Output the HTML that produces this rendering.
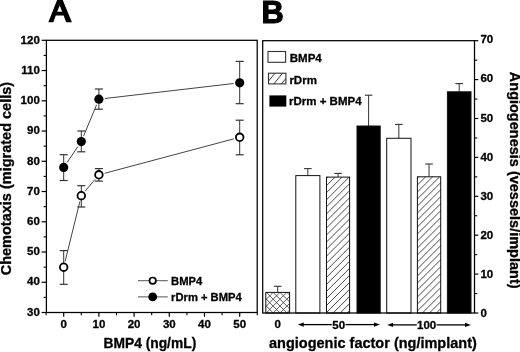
<!DOCTYPE html>
<html><head><meta charset="utf-8"><style>
html,body{margin:0;padding:0;background:#fff;}
svg{display:block;will-change:transform;}
.t{font-family:"Liberation Sans",sans-serif;font-weight:bold;font-size:11.5px;fill:#000;stroke:#000;stroke-width:0.3px;}
.tt{font-family:"Liberation Sans",sans-serif;font-weight:bold;font-size:14.5px;fill:#000;stroke:#000;stroke-width:0.3px;}
.big{font-family:"Liberation Sans",sans-serif;font-weight:bold;font-size:33px;fill:#000;stroke:#000;stroke-width:0.7px;}
</style></head><body>
<svg width="520" height="352" viewBox="0 0 520 352">

<rect x="46.4" y="40.3" width="210.8" height="272.2" fill="none" stroke="#000" stroke-width="1.25"/>
<line x1="41.6" y1="312.5" x2="46.4" y2="312.5" stroke="#000" stroke-width="1.2"/>
<text x="39.8" y="315.5" text-anchor="end" class="t">30</text>
<line x1="41.6" y1="282.26" x2="46.4" y2="282.26" stroke="#000" stroke-width="1.2"/>
<text x="39.8" y="285.32" text-anchor="end" class="t">40</text>
<line x1="41.6" y1="252.01" x2="46.4" y2="252.01" stroke="#000" stroke-width="1.2"/>
<text x="39.8" y="255.14" text-anchor="end" class="t">50</text>
<line x1="41.6" y1="221.77" x2="46.4" y2="221.77" stroke="#000" stroke-width="1.2"/>
<text x="39.8" y="224.97" text-anchor="end" class="t">60</text>
<line x1="41.6" y1="191.52" x2="46.4" y2="191.52" stroke="#000" stroke-width="1.2"/>
<text x="39.8" y="194.79" text-anchor="end" class="t">70</text>
<line x1="41.6" y1="161.28" x2="46.4" y2="161.28" stroke="#000" stroke-width="1.2"/>
<text x="39.8" y="164.61" text-anchor="end" class="t">80</text>
<line x1="41.6" y1="131.03" x2="46.4" y2="131.03" stroke="#000" stroke-width="1.2"/>
<text x="39.8" y="134.43" text-anchor="end" class="t">90</text>
<line x1="41.6" y1="100.79" x2="46.4" y2="100.79" stroke="#000" stroke-width="1.2"/>
<text x="39.8" y="104.26" text-anchor="end" class="t">100</text>
<line x1="41.6" y1="70.54" x2="46.4" y2="70.54" stroke="#000" stroke-width="1.2"/>
<text x="39.8" y="74.08" text-anchor="end" class="t">110</text>
<line x1="41.6" y1="40.3" x2="46.4" y2="40.3" stroke="#000" stroke-width="1.2"/>
<text x="39.8" y="43.9" text-anchor="end" class="t">120</text>
<line x1="43.6" y1="297.38" x2="46.4" y2="297.38" stroke="#000" stroke-width="1.1"/>
<line x1="43.6" y1="267.13" x2="46.4" y2="267.13" stroke="#000" stroke-width="1.1"/>
<line x1="43.6" y1="236.89" x2="46.4" y2="236.89" stroke="#000" stroke-width="1.1"/>
<line x1="43.6" y1="206.64" x2="46.4" y2="206.64" stroke="#000" stroke-width="1.1"/>
<line x1="43.6" y1="176.4" x2="46.4" y2="176.4" stroke="#000" stroke-width="1.1"/>
<line x1="43.6" y1="146.16" x2="46.4" y2="146.16" stroke="#000" stroke-width="1.1"/>
<line x1="43.6" y1="115.91" x2="46.4" y2="115.91" stroke="#000" stroke-width="1.1"/>
<line x1="43.6" y1="85.67" x2="46.4" y2="85.67" stroke="#000" stroke-width="1.1"/>
<line x1="43.6" y1="55.42" x2="46.4" y2="55.42" stroke="#000" stroke-width="1.1"/>
<line x1="63.7" y1="312.5" x2="63.7" y2="316.7" stroke="#000" stroke-width="1.2"/>
<text x="63.7" y="327.6" text-anchor="middle" class="t">0</text>
<line x1="98.9" y1="312.5" x2="98.9" y2="316.7" stroke="#000" stroke-width="1.2"/>
<text x="98.9" y="327.6" text-anchor="middle" class="t">10</text>
<line x1="134.1" y1="312.5" x2="134.1" y2="316.7" stroke="#000" stroke-width="1.2"/>
<text x="134.1" y="327.6" text-anchor="middle" class="t">20</text>
<line x1="169.3" y1="312.5" x2="169.3" y2="316.7" stroke="#000" stroke-width="1.2"/>
<text x="169.3" y="327.6" text-anchor="middle" class="t">30</text>
<line x1="204.5" y1="312.5" x2="204.5" y2="316.7" stroke="#000" stroke-width="1.2"/>
<text x="204.5" y="327.6" text-anchor="middle" class="t">40</text>
<line x1="239.7" y1="312.5" x2="239.7" y2="316.7" stroke="#000" stroke-width="1.2"/>
<text x="239.7" y="327.6" text-anchor="middle" class="t">50</text>
<line x1="46.1" y1="312.5" x2="46.1" y2="315.3" stroke="#000" stroke-width="1.1"/>
<line x1="81.3" y1="312.5" x2="81.3" y2="315.3" stroke="#000" stroke-width="1.1"/>
<line x1="116.5" y1="312.5" x2="116.5" y2="315.3" stroke="#000" stroke-width="1.1"/>
<line x1="151.7" y1="312.5" x2="151.7" y2="315.3" stroke="#000" stroke-width="1.1"/>
<line x1="186.9" y1="312.5" x2="186.9" y2="315.3" stroke="#000" stroke-width="1.1"/>
<line x1="222.1" y1="312.5" x2="222.1" y2="315.3" stroke="#000" stroke-width="1.1"/>
<line x1="257.3" y1="312.5" x2="257.3" y2="315.3" stroke="#000" stroke-width="1.1"/>
<text x="103.5" y="348.2" class="tt" style="font-size:13.8px">BMP4 (ng/mL)</text>
<text transform="translate(11.4,275.3) rotate(-90)" x="0" y="0" class="tt">Chemotaxis (migrated cells)</text>
<path d="M48.3 22.3 L57.9 -2 L61.9 -2 L71.9 22.3 L66.2 22.3 L63.6 15.6 L55.8 15.6 L53.3 22.3 Z M57.2 11.8 L62.2 11.8 L59.7 5.6 Z" fill="#000" fill-rule="evenodd"/>
<line x1="67.08" y1="162.44" x2="77.92" y2="146.56" stroke="#444" stroke-width="1"/>
<line x1="83.6" y1="136.06" x2="96.6" y2="104.74" stroke="#444" stroke-width="1"/>
<line x1="104.86" y1="98.51" x2="233.74" y2="83.49" stroke="#444" stroke-width="1"/>
<line x1="63.7" y1="154.7" x2="63.7" y2="180.5" stroke="#333" stroke-width="1"/>
<line x1="59.7" y1="154.7" x2="67.7" y2="154.7" stroke="#333" stroke-width="1.2"/>
<line x1="59.7" y1="180.5" x2="67.7" y2="180.5" stroke="#333" stroke-width="1.2"/>
<line x1="81.3" y1="131" x2="81.3" y2="151.8" stroke="#333" stroke-width="1"/>
<line x1="77.3" y1="131" x2="85.3" y2="131" stroke="#333" stroke-width="1.2"/>
<line x1="77.3" y1="151.8" x2="85.3" y2="151.8" stroke="#333" stroke-width="1.2"/>
<line x1="98.9" y1="89" x2="98.9" y2="109.2" stroke="#333" stroke-width="1"/>
<line x1="94.9" y1="89" x2="102.9" y2="89" stroke="#333" stroke-width="1.2"/>
<line x1="94.9" y1="109.2" x2="102.9" y2="109.2" stroke="#333" stroke-width="1.2"/>
<line x1="239.7" y1="61.4" x2="239.7" y2="103.7" stroke="#333" stroke-width="1"/>
<line x1="235.7" y1="61.4" x2="243.7" y2="61.4" stroke="#333" stroke-width="1.2"/>
<line x1="235.7" y1="103.7" x2="243.7" y2="103.7" stroke="#333" stroke-width="1.2"/>
<line x1="65.13" y1="261.37" x2="79.87" y2="201.53" stroke="#444" stroke-width="1"/>
<line x1="85.16" y1="191.11" x2="95.04" y2="179.39" stroke="#444" stroke-width="1"/>
<line x1="104.7" y1="173.26" x2="233.9" y2="138.84" stroke="#444" stroke-width="1"/>
<line x1="63.7" y1="250.6" x2="63.7" y2="284.3" stroke="#333" stroke-width="1"/>
<line x1="59.7" y1="250.6" x2="67.7" y2="250.6" stroke="#333" stroke-width="1.2"/>
<line x1="59.7" y1="284.3" x2="67.7" y2="284.3" stroke="#333" stroke-width="1.2"/>
<line x1="81.3" y1="185.7" x2="81.3" y2="207" stroke="#333" stroke-width="1"/>
<line x1="77.3" y1="185.7" x2="85.3" y2="185.7" stroke="#333" stroke-width="1.2"/>
<line x1="77.3" y1="207" x2="85.3" y2="207" stroke="#333" stroke-width="1.2"/>
<line x1="98.9" y1="168.6" x2="98.9" y2="181.1" stroke="#333" stroke-width="1"/>
<line x1="94.9" y1="168.6" x2="102.9" y2="168.6" stroke="#333" stroke-width="1.2"/>
<line x1="94.9" y1="181.1" x2="102.9" y2="181.1" stroke="#333" stroke-width="1.2"/>
<line x1="239.7" y1="120.2" x2="239.7" y2="154.8" stroke="#333" stroke-width="1"/>
<line x1="235.7" y1="120.2" x2="243.7" y2="120.2" stroke="#333" stroke-width="1.2"/>
<line x1="235.7" y1="154.8" x2="243.7" y2="154.8" stroke="#333" stroke-width="1.2"/>
<circle cx="63.7" cy="167.4" r="4.6" fill="#000"/>
<circle cx="81.3" cy="141.6" r="4.6" fill="#000"/>
<circle cx="98.9" cy="99.2" r="4.6" fill="#000"/>
<circle cx="239.7" cy="82.8" r="4.6" fill="#000"/>
<circle cx="63.7" cy="267.2" r="3.8" fill="#fff" stroke="#000" stroke-width="1.8"/>
<circle cx="81.3" cy="195.7" r="3.8" fill="#fff" stroke="#000" stroke-width="1.8"/>
<circle cx="98.9" cy="174.8" r="3.8" fill="#fff" stroke="#000" stroke-width="1.8"/>
<circle cx="239.7" cy="137.3" r="3.8" fill="#fff" stroke="#000" stroke-width="1.8"/>
<line x1="138" y1="280.7" x2="167.8" y2="280.7" stroke="#555" stroke-width="1"/>
<circle cx="152.7" cy="280.7" r="3.2" fill="#fff" stroke="#000" stroke-width="1.7"/>
<text x="171.1" y="284.8" class="t" style="font-size:11.2px">BMP4</text>
<line x1="138" y1="296.9" x2="167.8" y2="296.9" stroke="#555" stroke-width="1"/>
<circle cx="152.7" cy="296.9" r="4.4" fill="#000"/>
<text x="171.1" y="300.8" class="t" style="font-size:11.2px">rDrm + BMP4</text>
<text x="261.4" y="22.6" class="big" style="font-size:30.8px;stroke-width:1.1px">B</text>
<line x1="277.7" y1="286.3" x2="277.7" y2="292.4" stroke="#333" stroke-width="1"/>
<line x1="273.9" y1="286.3" x2="281.5" y2="286.3" stroke="#333" stroke-width="1.1"/>
<rect x="265.8" y="292.4" width="23.8" height="20.6" fill="#fff"/>
<clipPath id="cp0"><rect x="265.8" y="292.4" width="23.8" height="20.6"/></clipPath>
<g clip-path="url(#cp0)" stroke="#333" stroke-width="0.8"><path d="M229.95 315L254.55 290.4M236.8 315L261.4 290.4M243.65 315L268.25 290.4M250.5 315L275.1 290.4M257.35 315L281.95 290.4M264.2 315L288.8 290.4M271.05 315L295.65 290.4M277.9 315L302.5 290.4M284.75 315L309.35 290.4M291.6 315L316.2 290.4M230.1 290.4L254.7 315M236.95 290.4L261.55 315M243.8 290.4L268.4 315M250.65 290.4L275.25 315M257.5 290.4L282.1 315M264.35 290.4L288.95 315M271.2 290.4L295.8 315M278.05 290.4L302.65 315M284.9 290.4L309.5 315M291.75 290.4L316.35 315"/></g>
<rect x="265.8" y="292.4" width="23.8" height="20.6" fill="none" stroke="#111" stroke-width="1"/>
<line x1="307.85" y1="168.6" x2="307.85" y2="175.6" stroke="#333" stroke-width="1"/>
<line x1="304.05" y1="168.6" x2="311.65" y2="168.6" stroke="#333" stroke-width="1.1"/>
<rect x="295.8" y="175.6" width="24.1" height="137.4" fill="#fff" stroke="#111" stroke-width="1"/>
<line x1="338.05" y1="173.4" x2="338.05" y2="177.1" stroke="#333" stroke-width="1"/>
<line x1="334.25" y1="173.4" x2="341.85" y2="173.4" stroke="#333" stroke-width="1.1"/>
<rect x="326.5" y="177.1" width="23.1" height="135.9" fill="#fff"/>
<clipPath id="cp2"><rect x="326.5" y="177.1" width="23.1" height="135.9"/></clipPath>
<g clip-path="url(#cp2)" stroke="#333" stroke-width="0.9"><path d="M176 315L315.9 175.1M183.05 315L322.95 175.1M190.1 315L330 175.1M197.15 315L337.05 175.1M204.2 315L344.1 175.1M211.25 315L351.15 175.1M218.3 315L358.2 175.1M225.35 315L365.25 175.1M232.4 315L372.3 175.1M239.45 315L379.35 175.1M246.5 315L386.4 175.1M253.55 315L393.45 175.1M260.6 315L400.5 175.1M267.65 315L407.55 175.1M274.7 315L414.6 175.1M281.75 315L421.65 175.1M288.8 315L428.7 175.1M295.85 315L435.75 175.1M302.9 315L442.8 175.1M309.95 315L449.85 175.1M317 315L456.9 175.1M324.05 315L463.95 175.1M331.1 315L471 175.1M338.15 315L478.05 175.1M345.2 315L485.1 175.1M352.25 315L492.15 175.1"/></g>
<rect x="326.5" y="177.1" width="23.1" height="135.9" fill="none" stroke="#111" stroke-width="1"/>
<line x1="368.6" y1="95.2" x2="368.6" y2="126" stroke="#333" stroke-width="1"/>
<line x1="364.8" y1="95.2" x2="372.4" y2="95.2" stroke="#333" stroke-width="1.1"/>
<rect x="357" y="126" width="23.2" height="187" fill="#000" stroke="#111" stroke-width="1"/>
<line x1="398.85" y1="124.4" x2="398.85" y2="138.3" stroke="#333" stroke-width="1"/>
<line x1="395.05" y1="124.4" x2="402.65" y2="124.4" stroke="#333" stroke-width="1.1"/>
<rect x="386.7" y="138.3" width="24.3" height="174.7" fill="#fff" stroke="#111" stroke-width="1"/>
<line x1="429.05" y1="164" x2="429.05" y2="176.8" stroke="#333" stroke-width="1"/>
<line x1="425.25" y1="164" x2="432.85" y2="164" stroke="#333" stroke-width="1.1"/>
<rect x="417.4" y="176.8" width="23.3" height="136.2" fill="#fff"/>
<clipPath id="cp5"><rect x="417.4" y="176.8" width="23.3" height="136.2"/></clipPath>
<g clip-path="url(#cp5)" stroke="#333" stroke-width="0.9"><path d="M266.4 315L406.6 174.8M273.4 315L413.6 174.8M280.4 315L420.6 174.8M287.4 315L427.6 174.8M294.4 315L434.6 174.8M301.4 315L441.6 174.8M308.4 315L448.6 174.8M315.4 315L455.6 174.8M322.4 315L462.6 174.8M329.4 315L469.6 174.8M336.4 315L476.6 174.8M343.4 315L483.6 174.8M350.4 315L490.6 174.8M357.4 315L497.6 174.8M364.4 315L504.6 174.8M371.4 315L511.6 174.8M378.4 315L518.6 174.8M385.4 315L525.6 174.8M392.4 315L532.6 174.8M399.4 315L539.6 174.8M406.4 315L546.6 174.8M413.4 315L553.6 174.8M420.4 315L560.6 174.8M427.4 315L567.6 174.8M434.4 315L574.6 174.8M441.4 315L581.6 174.8"/></g>
<rect x="417.4" y="176.8" width="23.3" height="136.2" fill="none" stroke="#111" stroke-width="1"/>
<line x1="459.2" y1="83.6" x2="459.2" y2="91.8" stroke="#333" stroke-width="1"/>
<line x1="455.4" y1="83.6" x2="463" y2="83.6" stroke="#333" stroke-width="1.1"/>
<rect x="447.4" y="91.8" width="23.6" height="221.2" fill="#000" stroke="#111" stroke-width="1"/>
<rect x="262.7" y="40.7" width="211.8" height="272.3" fill="none" stroke="#000" stroke-width="1.25"/>
<line x1="474.5" y1="313" x2="478.3" y2="313" stroke="#000" stroke-width="1.2"/>
<text x="480.4" y="317" class="t">0</text>
<line x1="474.5" y1="274.1" x2="478.3" y2="274.1" stroke="#000" stroke-width="1.2"/>
<text x="480.4" y="277.91" class="t">10</text>
<line x1="474.5" y1="235.2" x2="478.3" y2="235.2" stroke="#000" stroke-width="1.2"/>
<text x="480.4" y="238.83" class="t">20</text>
<line x1="474.5" y1="196.3" x2="478.3" y2="196.3" stroke="#000" stroke-width="1.2"/>
<text x="480.4" y="199.74" class="t">30</text>
<line x1="474.5" y1="157.4" x2="478.3" y2="157.4" stroke="#000" stroke-width="1.2"/>
<text x="480.4" y="160.66" class="t">40</text>
<line x1="474.5" y1="118.5" x2="478.3" y2="118.5" stroke="#000" stroke-width="1.2"/>
<text x="480.4" y="121.57" class="t">50</text>
<line x1="474.5" y1="79.6" x2="478.3" y2="79.6" stroke="#000" stroke-width="1.2"/>
<text x="480.4" y="82.49" class="t">60</text>
<line x1="474.5" y1="40.7" x2="478.3" y2="40.7" stroke="#000" stroke-width="1.2"/>
<text x="480.4" y="43.4" class="t">70</text>
<line x1="474.5" y1="293.55" x2="477.3" y2="293.55" stroke="#000" stroke-width="1.1"/>
<line x1="474.5" y1="254.65" x2="477.3" y2="254.65" stroke="#000" stroke-width="1.1"/>
<line x1="474.5" y1="215.75" x2="477.3" y2="215.75" stroke="#000" stroke-width="1.1"/>
<line x1="474.5" y1="176.85" x2="477.3" y2="176.85" stroke="#000" stroke-width="1.1"/>
<line x1="474.5" y1="137.95" x2="477.3" y2="137.95" stroke="#000" stroke-width="1.1"/>
<line x1="474.5" y1="99.05" x2="477.3" y2="99.05" stroke="#000" stroke-width="1.1"/>
<line x1="474.5" y1="60.15" x2="477.3" y2="60.15" stroke="#000" stroke-width="1.1"/>
<text transform="translate(509.6,71.8) rotate(90)" x="0" y="0" class="tt">Angiogenesis (vessels/implant)</text>
<text x="269" y="348.2" class="tt">angiogenic factor (ng/implant)</text>
<text x="277.7" y="327.8" text-anchor="middle" class="t">0</text>
<line x1="300.8" y1="324.6" x2="331.8" y2="324.6" stroke="#000" stroke-width="1.3"/>
<line x1="345.5" y1="324.6" x2="377" y2="324.6" stroke="#000" stroke-width="1.3"/>
<path d="M297.8 324.6 L303.8 322.4 L303.8 326.8 Z" fill="#000"/>
<path d="M380 324.6 L374 322.4 L374 326.8 Z" fill="#000"/>
<text x="338.65" y="328.7" text-anchor="middle" class="t">50</text>
<line x1="390.1" y1="324.9" x2="416.8" y2="324.9" stroke="#000" stroke-width="1.3"/>
<line x1="436.5" y1="324.9" x2="468" y2="324.9" stroke="#000" stroke-width="1.3"/>
<path d="M387.1 324.9 L393.1 322.7 L393.1 327.1 Z" fill="#000"/>
<path d="M471 324.9 L465 322.7 L465 327.1 Z" fill="#000"/>
<text x="426.65" y="329" text-anchor="middle" class="t">100</text>
<rect x="268" y="51.5" width="17.6" height="10.8" fill="#fff" stroke="#333" stroke-width="1.1"/>
<text x="289.8" y="62" class="t" style="font-size:11.5px">BMP4</text>
<clipPath id="cpL"><rect x="268.5" y="73.2" width="17.4" height="10.7"/></clipPath>
<g clip-path="url(#cpL)" stroke="#333" stroke-width="1"><path d="M261.94 70.6L249.06 86.3M269.54 70.6L256.66 86.3M277.14 70.6L264.26 86.3M284.74 70.6L271.86 86.3M292.34 70.6L279.46 86.3M299.94 70.6L287.06 86.3"/></g>
<rect x="268.5" y="73.2" width="17.4" height="10.7" fill="none" stroke="#333" stroke-width="1.1"/>
<text x="289.4" y="83.8" class="t" style="font-size:11.5px">rDrm</text>
<rect x="269.4" y="95.4" width="16.9" height="11.2" fill="#000"/>
<text x="289.0" y="105.4" class="t" style="font-size:11.5px">rDrm + BMP4</text>
</svg>
</body></html>
